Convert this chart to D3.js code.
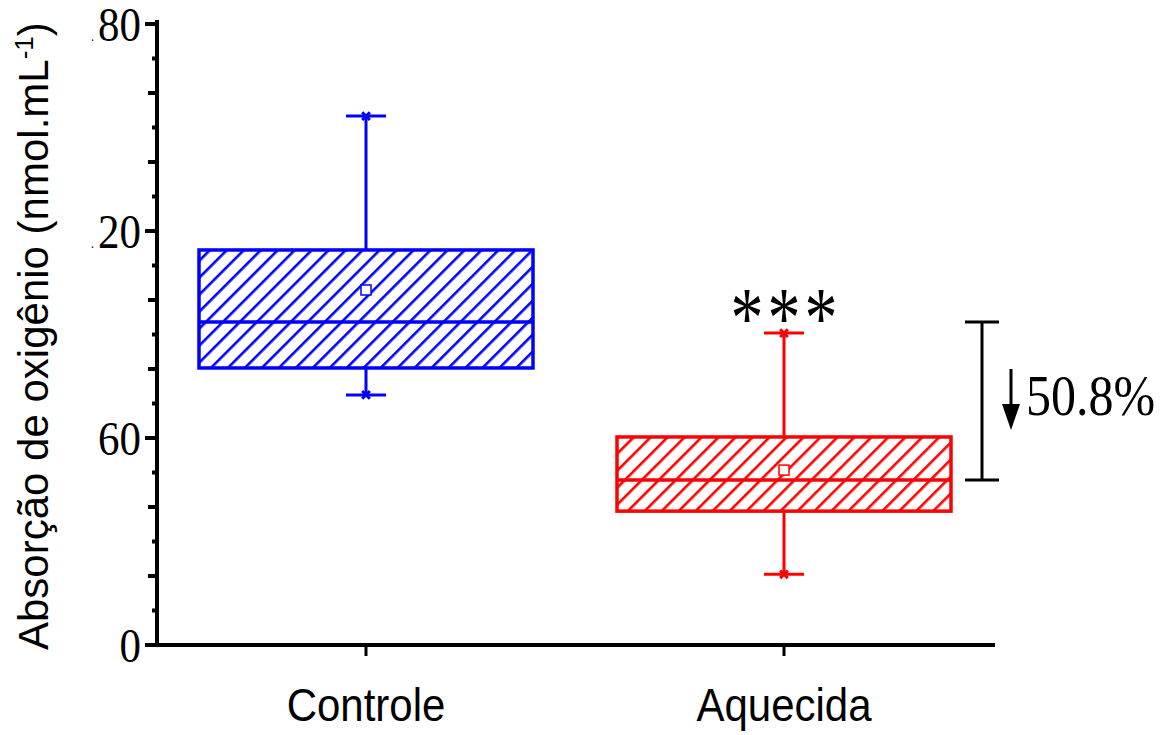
<!DOCTYPE html>
<html>
<head>
<meta charset="utf-8">
<script src="https://cdn.jsdelivr.net/npm/d3@7"></script>
<style>
  html, body { margin: 0; padding: 0; background: #fff; }
  svg { display: block; }
</style>
</head>
<body>
<svg id="chart" width="1174" height="735"></svg>
<script>
// Box plot summaries for oxygen uptake (nmol.mL-1)
const categories = ["Controle", "Aquecida"];
const whiskerLow  = [72.5, 20.5];
const q1          = [80.3, 38.8];
const median      = [93.6, 47.8];
const q3          = [114.5, 60.3];
const whiskerHigh = [153.3, 90.4];
const means       = [102.9, 50.7];
const colors      = ["#0000ff", "#ff0000"];

const tickValues = [0, 60, 120, 180];
const tickLabels = ["0", "60", ".20", ".80"];
const significance = "***";
const reductionLabel = "50.8%";

const svg = d3.select("#chart");
const stretch = 1.15; // text is drawn taller than wide

const y = d3.scaleLinear().domain([0, 180]).range([645, 24]);
const x = d3.scaleBand().domain(categories).range([157, 993]).padding(0);
const boxW = 334;
const cx = c => x(c) + x.bandwidth() / 2;

// hatch patterns
const defs = svg.append("defs");
colors.forEach((col, i) => {
  const p = defs.append("pattern")
    .attr("id", "hatch" + i)
    .attr("patternUnits", "userSpaceOnUse")
    .attr("width", 12).attr("height", 12)
    .attr("patternTransform", "rotate(45)");
  p.append("line")
    .attr("x1", 0).attr("y1", -2).attr("x2", 0).attr("y2", 14)
    .attr("stroke", col).attr("stroke-width", 5.2);
});

// boxes
categories.forEach((c, i) => {
  const g = svg.append("g");
  const col = colors[i];
  const xc = cx(c);
  // whiskers
  g.append("line").attr("x1", xc).attr("x2", xc)
    .attr("y1", y(q3[i])).attr("y2", y(whiskerHigh[i]))
    .attr("stroke", col).attr("stroke-width", 3);
  g.append("line").attr("x1", xc).attr("x2", xc)
    .attr("y1", y(q1[i])).attr("y2", y(whiskerLow[i]))
    .attr("stroke", col).attr("stroke-width", 3);
  [whiskerHigh[i], whiskerLow[i]].forEach(v => {
    g.append("line").attr("x1", xc - 20).attr("x2", xc + 20)
      .attr("y1", y(v)).attr("y2", y(v))
      .attr("stroke", col).attr("stroke-width", 3);
    g.append("path")
      .attr("d", d3.symbol(d3.symbolX, 40)())
      .attr("transform", `translate(${xc},${y(v)})`)
      .attr("stroke", col).attr("stroke-width", 3).attr("fill", "none");
  });
  // box
  g.append("rect")
    .attr("x", xc - boxW / 2).attr("width", boxW)
    .attr("y", y(q3[i])).attr("height", y(q1[i]) - y(q3[i]))
    .attr("fill", `url(#hatch${i})`)
    .attr("stroke", col).attr("stroke-width", 3.5);
  g.append("line")
    .attr("x1", xc - boxW / 2).attr("x2", xc + boxW / 2)
    .attr("y1", y(median[i])).attr("y2", y(median[i]))
    .attr("stroke", col).attr("stroke-width", 3.5);
  // mean marker
  g.append("rect")
    .attr("x", xc - 5).attr("y", y(means[i]) - 5)
    .attr("width", 10).attr("height", 10)
    .attr("fill", "#fff").attr("stroke", col).attr("stroke-width", 1.5);
});

// y axis
const yAxis = svg.append("g");
yAxis.append("line").attr("x1", 157).attr("x2", 157)
  .attr("y1", y(180) - 4).attr("y2", y(0) + 2)
  .attr("stroke", "#000").attr("stroke-width", 4);
d3.range(0, 181, 10).forEach(v => {
  const len = v % 60 === 0 ? 12 : (v % 20 === 0 ? 9 : 5);
  yAxis.append("line")
    .attr("x1", 157).attr("x2", 157 - len)
    .attr("y1", y(v)).attr("y2", y(v))
    .attr("stroke", "#000").attr("stroke-width", 4);
});
tickValues.forEach((v, i) => {
  const t = yAxis.append("text")
    .attr("transform", `translate(141,${y(v) + 1}) scale(1,${stretch})`)
    .attr("text-anchor", "end")
    .attr("dy", "0.33em")
    .attr("font-family", "Liberation Serif")
    .attr("font-size", 43)
    .attr("fill", "#000");
  const lab = tickLabels[i];
  if (lab.startsWith(".")) {
    t.append("tspan").attr("font-size", 12).text(".");
    t.append("tspan").attr("dx", 4).text(lab.slice(1));
  } else {
    t.text(lab);
  }
});

// axis title
svg.append("text")
  .attr("transform", "translate(48,650) rotate(-90)")
  .attr("text-anchor", "start")
  .attr("font-family", "Liberation Sans, Arial")
  .attr("font-size", 42)
  .attr("fill", "#000")
  .html('Absorção de oxigênio (nmol.mL<tspan dy="-15" font-size="26">-1</tspan><tspan dy="15">)</tspan>');

// x axis
const xAxis = svg.append("g");
xAxis.append("line").attr("x1", 155).attr("x2", 995)
  .attr("y1", 645).attr("y2", 645)
  .attr("stroke", "#000").attr("stroke-width", 4);
categories.forEach(c => {
  xAxis.append("line").attr("x1", cx(c)).attr("x2", cx(c))
    .attr("y1", 645).attr("y2", 656)
    .attr("stroke", "#000").attr("stroke-width", 3);
  xAxis.append("text")
    .attr("transform", `translate(${cx(c)},721) scale(1,1.1)`)
    .attr("text-anchor", "middle")
    .attr("font-family", "Liberation Sans, Arial")
    .attr("font-size", 42)
    .attr("fill", "#000")
    .text(c);
});

// significance marker above the heated group
svg.append("text")
  .attr("transform", `translate(${cx(categories[1]) + 2},347) scale(1,1.3)`)
  .attr("text-anchor", "middle")
  .attr("font-family", "Liberation Serif")
  .attr("font-size", 66)
  .attr("letter-spacing", 4)
  .attr("fill", "#000")
  .text(significance);

// reduction bracket between medians
const bx = 982;
const br = svg.append("g").attr("stroke", "#000").attr("stroke-width", 3);
br.append("line").attr("x1", bx).attr("x2", bx).attr("y1", y(median[0])).attr("y2", y(median[1]));
[median[0], median[1]].forEach(v => {
  br.append("line").attr("x1", bx - 17).attr("x2", bx + 17).attr("y1", y(v)).attr("y2", y(v));
});
// down arrow
const ax = 1011;
svg.append("line").attr("x1", ax).attr("x2", ax).attr("y1", 369).attr("y2", 410)
  .attr("stroke", "#000").attr("stroke-width", 3);
svg.append("path")
  .attr("d", `M${ax - 9},404 L${ax + 9},404 L${ax},430 Z`)
  .attr("fill", "#000");
svg.append("text")
  .attr("transform", `translate(1026,415) scale(1,${stretch})`)
  .attr("font-family", "Liberation Serif")
  .attr("font-size", 50)
  .attr("fill", "#000")
  .text(reductionLabel);
</script>
</body>
</html>
